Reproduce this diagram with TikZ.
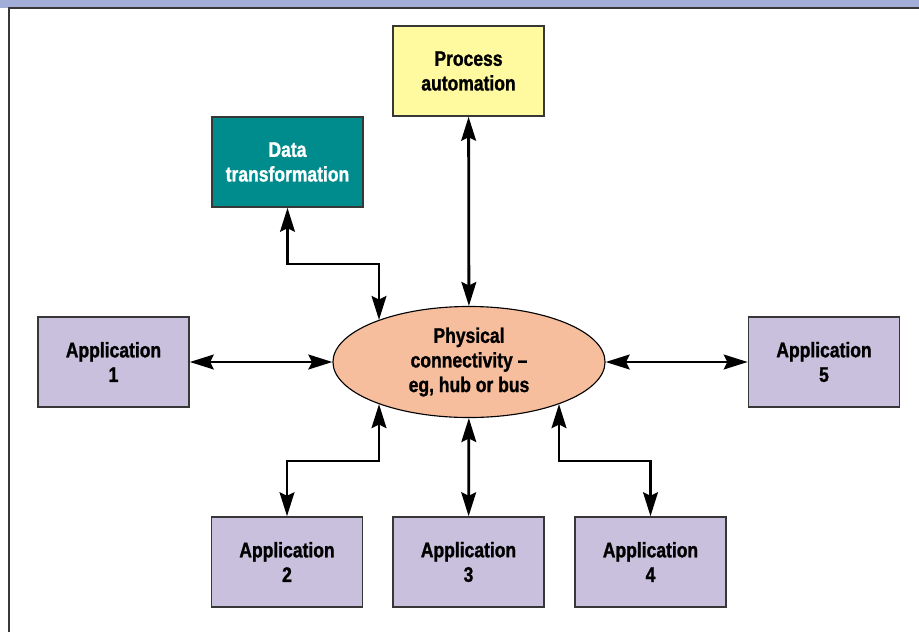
\documentclass[tikz,border=0pt]{standalone}
\usepackage{fontspec}
\setmainfont{Liberation Sans}[FakeStretch=0.83, BoldFeatures={FakeBold=1.2}]
\usetikzlibrary{shapes.geometric,arrows.meta}
\definecolor{barblue}{RGB}{163,174,216}
\definecolor{procyellow}{RGB}{255,250,160}
\definecolor{datateal}{RGB}{0,140,140}
\definecolor{hubpeach}{RGB}{247,190,158}
\definecolor{applilac}{RGB}{200,192,220}
\definecolor{edgegray}{RGB}{55,55,55}

\begin{document}
\begin{tikzpicture}[x=0.025cm, y=-0.025cm,
	every node/.style={font=\bfseries\fontsize{15}{17.5}\selectfont, align=center},
	box/.style={draw=edgegray, line width=1.1pt, minimum width=3.775cm, minimum height=2.25cm, inner sep=0pt},
	link/.style={line width=2pt, {Stealth[length=17pt,width=10.5pt,inset=2.5pt]}-{Stealth[length=17pt,width=10.5pt,inset=2.5pt]}}]
	\useasboundingbox (0,0) rectangle (919,632);
	\fill[barblue] (0,0) rectangle (919,7.5);
	\draw[edgegray, line width=1.4pt] (9,632) -- (9,8) -- (919,8);
	
	\node[ellipse, draw=black, line width=0.8pt, fill=hubpeach, minimum width=6.8cm, minimum height=2.775cm, inner sep=0pt] (phys) at (469,362) {Physical\\connectivity –\\eg, hub or bus};
	\node[box, fill=procyellow] (proc) at (468.5,71) {Process\\automation};
	\node[box, fill=datateal, text=white] (data) at (287.5,162) {Data\\transformation};
	\foreach \n/\x/\y in {1/113.5/362, 2/287/562, 3/468.5/562, 4/650.5/562, 5/824/362} {
		\node[box, fill=applilac] (app\n) at (\x,\y) {Application\\\n};
	}
	
	\coordinate (dtbend) at (379,264);
	\coordinate (a2bend) at (379,461);
	\coordinate (a4bend) at (559,461);
	\draw[link] (proc) -- (phys);
	\draw[link] (app1) -- (phys);
	\draw[link] (app5) -- (phys);
	\draw[link] (app3) -- (phys);
	\draw[link] (data.south) |- (dtbend) -- (dtbend |- phys.155);
	\draw[link] (app2.north) |- (a2bend) -- (a2bend |- phys.205);
	\draw[link] (app4.north) |- (a4bend) -- (a4bend |- phys.335);
\end{tikzpicture}
\end{document}
